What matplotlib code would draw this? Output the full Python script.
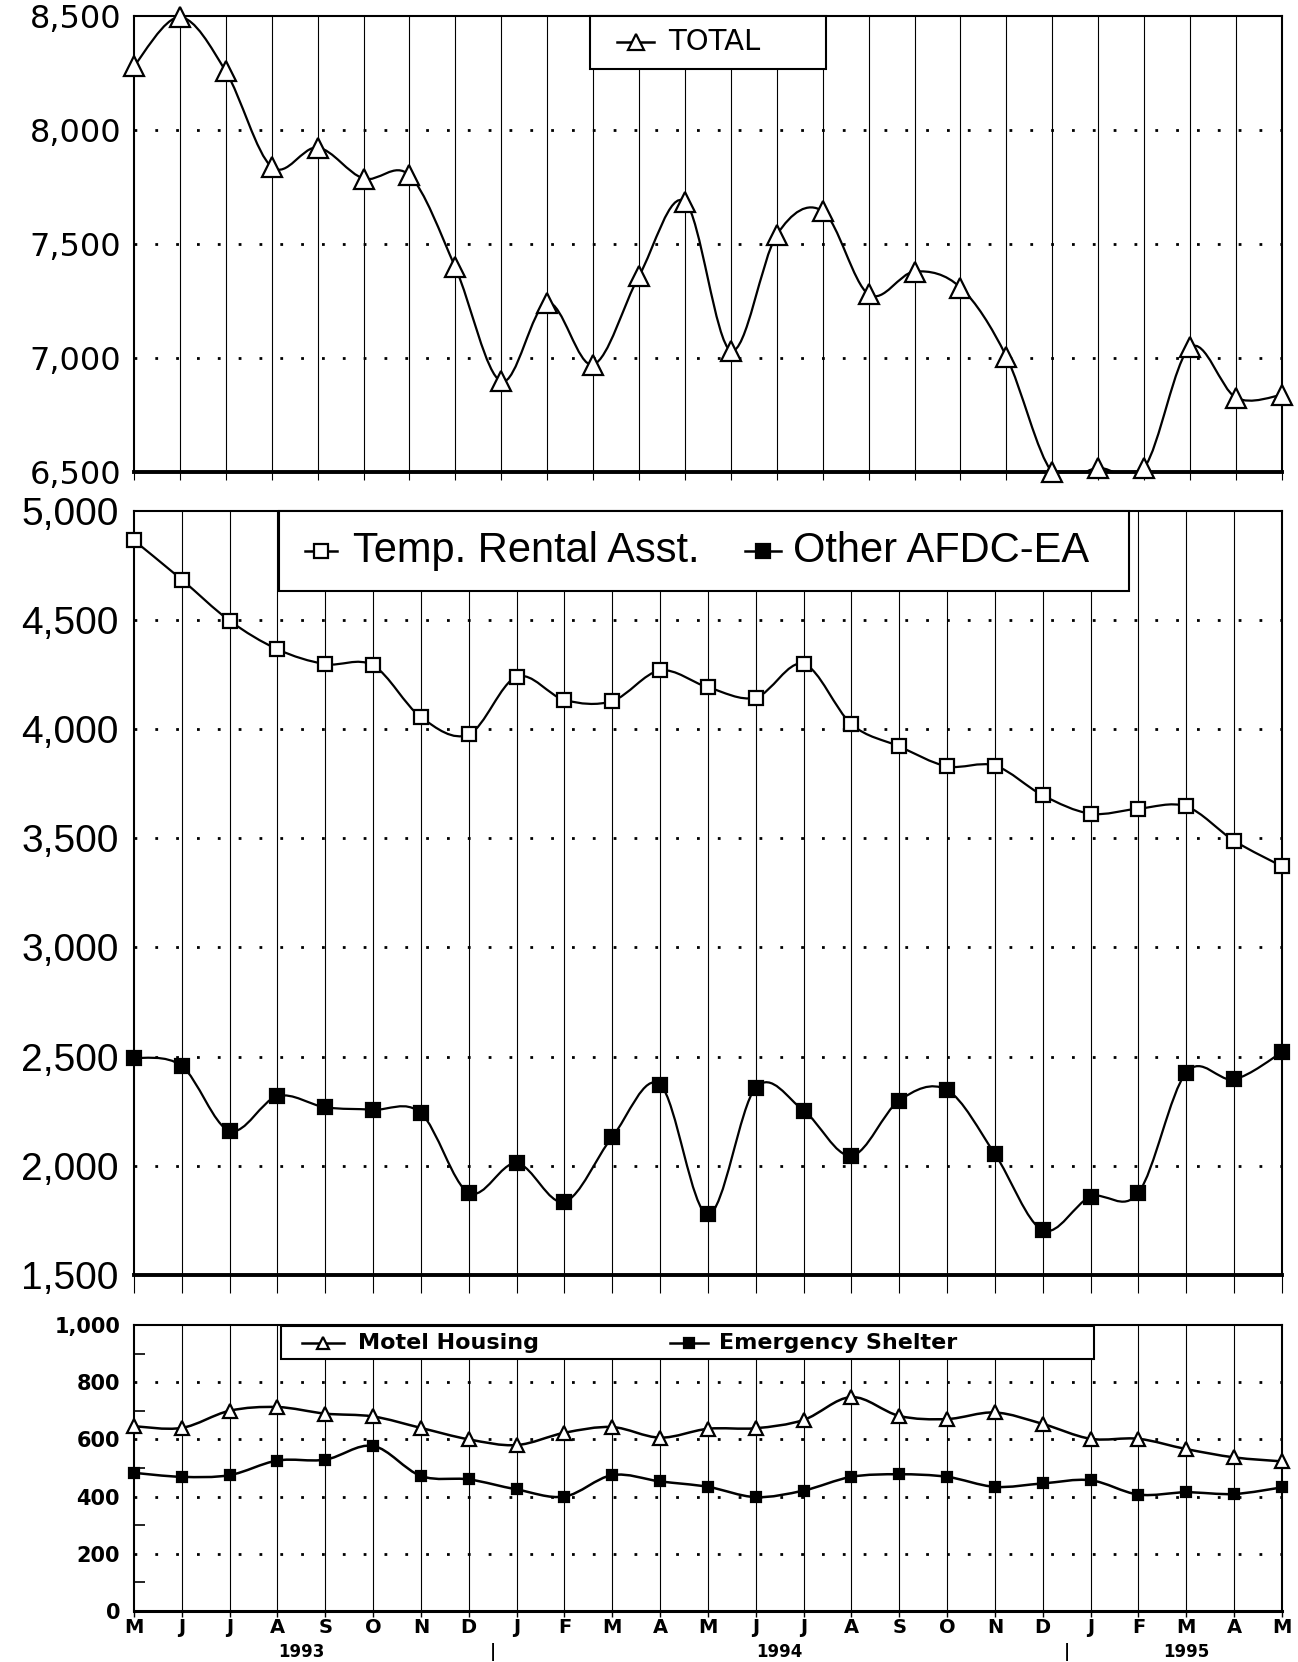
import numpy as np
import matplotlib
matplotlib.use('Agg')
import matplotlib.pyplot as plt
from matplotlib.path import Path
from matplotlib.patches import PathPatch, Rectangle
from matplotlib.lines import Line2D

# data
# top panel has one extra month (Apr 1993 .. May 1995)
total = [8280, 8495, 8257, 7838, 7923, 7787, 7801, 7397, 6897, 7243, 6971, 7360, 7686,
         7032, 7540, 7644, 7279, 7379, 7309, 7006, 6498, 6518, 6518, 7047, 6826, 6838]

# May 1993 .. May 1995
months = ['M', 'J', 'J', 'A', 'S', 'O', 'N', 'D', 'J', 'F', 'M', 'A', 'M',
          'J', 'J', 'A', 'S', 'O', 'N', 'D', 'J', 'F', 'M', 'A', 'M']
temp_rental = [4865, 4685, 4497, 4366, 4298, 4292, 4055, 3976, 4240, 4134, 4129, 4269, 4192,
               4145, 4299, 4023, 3921, 3830, 3833, 3697, 3613, 3636, 3646, 3489, 3372]
other_afdc = [2495, 2457, 2160, 2319, 2268, 2257, 2241, 1876, 2012, 1835, 2132, 2372, 1777,
              2358, 2253, 2046, 2299, 2347, 2054, 1705, 1858, 1876, 2427, 2396, 2520]
motel = [646, 640, 700, 713, 690, 680, 640, 600, 580, 623, 643, 606, 637,
         639, 668, 748, 682, 671, 694, 654, 602, 602, 566, 537, 523]
shelter = [483, 469, 475, 526, 529, 577, 472, 460, 425, 400, 475, 453, 434,
           398, 421, 469, 478, 469, 434, 446, 457, 407, 415, 409, 432]

years = ['1993', '1994', '1995']
year_pos = [3.5, 13.5, 22.0]
year_breaks = [7.5, 19.5]

top_ticks = [6500, 7000, 7500, 8000, 8500]
mid_ticks = [1500, 2000, 2500, 3000, 3500, 4000, 4500, 5000]
bot_ticks = [0, 200, 400, 600, 800, 1000]


def smooth_path(xs, ys):
    # excel style smoothed line as cubic bezier segments
    pts = np.column_stack([xs, ys]).astype(float)
    n = len(pts)
    verts = [pts[0]]
    codes = [Path.MOVETO]
    for i in range(n - 1):
        p0 = pts[i - 1] if i > 0 else pts[i]
        p1 = pts[i]
        p2 = pts[i + 1]
        p3 = pts[i + 2] if i + 2 < n else pts[i + 1]
        verts += [p1 + (p2 - p0) / 6.0, p2 - (p3 - p1) / 6.0, p2]
        codes += [Path.CURVE4] * 3
    return Path(verts, codes)


def draw_series(ax, ys, marker, ms, mfc, lw=1.6):
    xs = np.arange(len(ys))
    ax.add_patch(PathPatch(smooth_path(xs, ys), fill=False, lw=lw, ec='black', zorder=3))
    ax.plot(xs, ys, ls='none', marker=marker, ms=ms, mfc=mfc, mec='black', mew=1.6,
            zorder=4, clip_on=False)


def base_axes(ax, n, ylim, yticks):
    ax.set_xlim(0, n - 1)
    ax.set_ylim(*ylim)
    for x in range(1, n - 1):
        ax.axvline(x, color='black', lw=0.8, zorder=1)
    for y in yticks[1:-1]:
        ax.axhline(y, color='black', lw=2, dashes=(1, 6.5), zorder=1)
    ax.set_xticks(range(n))
    ax.set_yticks(yticks)
    for s in ax.spines.values():
        s.set_linewidth(1.5)


def legend_box(ax, x0, x1, y0, y1):
    ax.add_patch(Rectangle((x0, y0), x1 - x0, y1 - y0, transform=ax.transAxes,
                           fc='white', ec='black', lw=1.5, zorder=5, clip_on=False))


def legend_item(ax, lx0, lx1, y, marker, ms, mfc, label, tx, **kw):
    ax.add_line(Line2D([lx0, lx1], [y, y], transform=ax.transAxes, color='black',
                       lw=1.8, zorder=6))
    ax.add_line(Line2D([(lx0 + lx1) / 2], [y], transform=ax.transAxes, marker=marker,
                       ms=ms, mfc=mfc, mec='black', mew=1.6, ls='none', zorder=7))
    ax.text(tx, y, label, transform=ax.transAxes, va='center', ha='left', zorder=7, **kw)


fig = plt.figure(figsize=(12.98, 16.62), dpi=100)
left, width = 0.1032, 0.8844

# ---- top panel: TOTAL
ax1 = fig.add_axes([left, 0.716, width, 0.2744])
base_axes(ax1, len(total), (6500, 8500), top_ticks)
draw_series(ax1, total, '^', 14, 'white')
ax1.spines['bottom'].set_linewidth(2.8)
ax1.tick_params(axis='x', length=6, width=0.8, labelbottom=False, direction='out')
ax1.tick_params(axis='y', length=0, pad=9)
ax1.set_yticklabels([f'{v:,}' for v in top_ticks], family='DejaVu Sans', fontsize=23)
legend_box(ax1, 0.397, 0.603, 0.884, 1.0)
legend_item(ax1, 0.421, 0.453, 0.943, '^', 12, 'white', 'TOTAL', 0.465,
            family='DejaVu Sans', fontsize=21)

# ---- middle panel
ax2 = fig.add_axes([left, 0.2329, width, 0.4597])
base_axes(ax2, len(months), (1500, 5000), mid_ticks)
draw_series(ax2, temp_rental, 's', 10.5, 'white')
draw_series(ax2, other_afdc, 's', 10.5, 'black')
ax2.spines['bottom'].set_linewidth(2.8)
ax2.tick_params(axis='x', length=13, width=0.8, labelbottom=False, direction='out')
ax2.tick_params(axis='y', length=0, pad=11)
ax2.set_yticklabels([f'{v:,}' for v in mid_ticks], family='Liberation Sans', fontsize=28)
legend_box(ax2, 0.126, 0.867, 0.895, 1.0)
legend_item(ax2, 0.149, 0.177, 0.948, 's', 10, 'white', 'Temp. Rental Asst.', 0.191,
            family='Liberation Sans', fontsize=30)
legend_item(ax2, 0.532, 0.564, 0.948, 's', 10, 'black', 'Other AFDC-EA', 0.574,
            family='Liberation Sans', fontsize=30)

# ---- bottom panel
ax3 = fig.add_axes([left, 0.0307, width, 0.1721])
base_axes(ax3, len(months), (0, 1000), bot_ticks)
draw_series(ax3, motel, '^', 10, 'white', lw=1.8)
draw_series(ax3, shelter, 's', 7.5, 'black', lw=1.8)
ax3.spines['bottom'].set_linewidth(2.2)
ax3.set_yticks(range(100, 1000, 200), minor=True)
ax3.tick_params(axis='y', which='major', length=0, pad=10)
ax3.tick_params(axis='y', which='minor', length=8, width=1.2, direction='in')
ax3.tick_params(axis='x', length=4, width=1.0, direction='out', pad=1)
ax3.set_yticklabels([f'{v:,}' for v in bot_ticks], family='DejaVu Sans',
                    fontweight='bold', fontsize=15)
ax3.set_xticklabels(months, family='DejaVu Sans', fontweight='bold', fontsize=14)
ytr = ax3.get_xaxis_transform()
for lab, xp in zip(years, year_pos):
    ax3.text(xp, -0.175, lab, transform=ytr, ha='center', va='bottom',
             family='DejaVu Sans', fontweight='bold', fontsize=12)
for xp in year_breaks:
    ax3.text(xp, -0.175, '|', transform=ytr, ha='center', va='bottom',
             family='DejaVu Sans', fontweight='bold', fontsize=12)
legend_box(ax3, 0.128, 0.836, 0.88, 0.995)
legend_item(ax3, 0.146, 0.183, 0.938, '^', 8, 'white', 'Motel Housing', 0.195,
            family='DejaVu Sans', fontweight='bold', fontsize=16)
legend_item(ax3, 0.467, 0.500, 0.938, 's', 7, 'black', 'Emergency Shelter', 0.510,
            family='DejaVu Sans', fontweight='bold', fontsize=16)

fig.savefig('out.png', dpi=100, facecolor='white')
